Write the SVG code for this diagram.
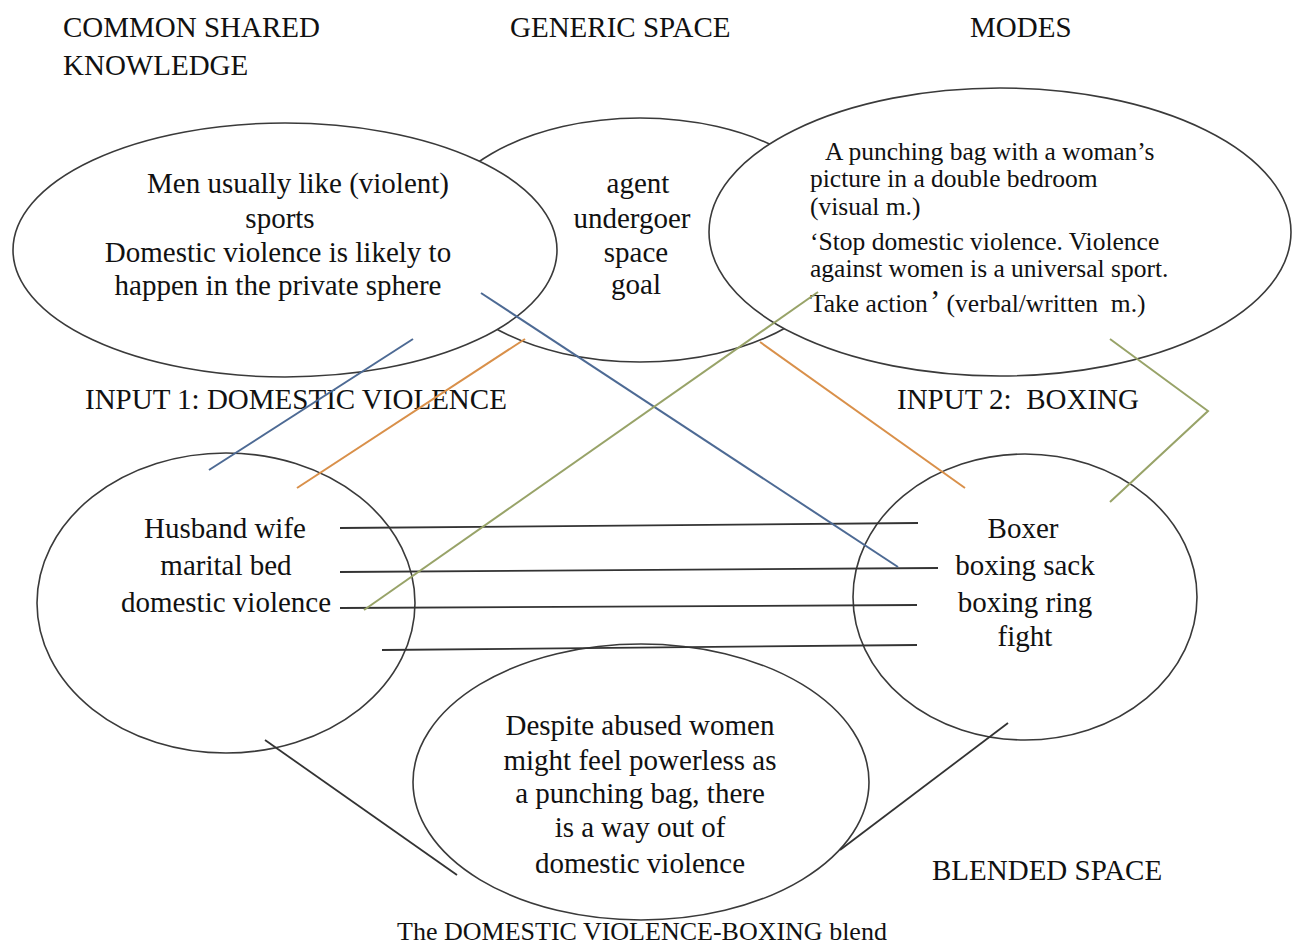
<svg xmlns="http://www.w3.org/2000/svg" width="1294" height="946" viewBox="0 0 1294 946">
  <style>
    text { font-family: "Liberation Serif", "Times New Roman", serif; fill: #111; white-space: pre; }
    .t29 { font-size: 29px; }
    .t25 { font-size: 25.5px; }
    .mid { text-anchor: middle; }
    .space { fill: #fff; stroke: #3a3a3a; stroke-width: 1.6; }
    .link { stroke: #333; stroke-width: 1.8; fill: none; }
    .blue { stroke: #4d6a94; stroke-width: 2; fill: none; }
    .orange { stroke: #d9904a; stroke-width: 2; fill: none; }
    .green { stroke: #98a368; stroke-width: 2; fill: none; }
  </style>

  <!-- section titles -->
  <g id="titles" class="t29">
    <text x="63" y="37">COMMON SHARED</text>
    <text x="63" y="75">KNOWLEDGE</text>
    <text x="510" y="37">GENERIC SPACE</text>
    <text x="970" y="37">MODES</text>
    <text x="85" y="409">INPUT 1: DOMESTIC VIOLENCE</text>
    <text x="897" y="409" xml:space="preserve">INPUT 2:  BOXING</text>
    <text x="932" y="880">BLENDED SPACE</text>
  </g>

  <!-- generic space (drawn first, overlapped by its neighbours) -->
  <g id="generic-space">
    <ellipse class="space" cx="640" cy="240" rx="210" ry="122"/>
    <g class="t29 mid">
      <text x="638" y="193">agent</text>
      <text x="632" y="228">undergoer</text>
      <text x="636" y="262">space</text>
      <text x="636" y="294">goal</text>
    </g>
  </g>

  <!-- common shared knowledge -->
  <g id="shared-knowledge">
    <ellipse class="space" cx="285" cy="250" rx="272" ry="127"/>
    <g class="t29 mid">
      <text x="298" y="193">Men usually like (violent)</text>
      <text x="280" y="228">sports</text>
      <text x="278" y="262">Domestic violence is likely to</text>
      <text x="278" y="295">happen in the private sphere</text>
    </g>
  </g>

  <!-- modes -->
  <g id="modes">
    <ellipse class="space" cx="1000" cy="232" rx="291" ry="144"/>
    <g class="t25">
      <text x="825" y="160">A punching bag with a woman’s</text>
      <text x="810" y="187">picture in a double bedroom</text>
      <text x="810" y="215">(visual m.)</text>
      <text x="810" y="250">‘Stop domestic violence. Violence</text>
      <text x="810" y="277">against women is a universal sport.</text>
      <text x="810" y="312" xml:space="preserve">Take action<tspan font-size="31px" dx="2">’</tspan> (verbal/written  m.)</text>
    </g>
  </g>

  <!-- input 1 -->
  <g id="input-1">
    <ellipse class="space" cx="226" cy="603" rx="189" ry="150"/>
    <g class="t29 mid">
      <text x="225" y="538">Husband wife</text>
      <text x="226" y="575">marital bed</text>
      <text x="226" y="612">domestic violence</text>
    </g>
  </g>

  <!-- input 2 -->
  <g id="input-2">
    <ellipse class="space" cx="1025" cy="597" rx="172" ry="143"/>
    <g class="t29 mid">
      <text x="1023" y="538">Boxer</text>
      <text x="1025" y="575">boxing sack</text>
      <text x="1025" y="612">boxing ring</text>
      <text x="1025" y="646">fight</text>
    </g>
  </g>

  <!-- blended space -->
  <g id="blend">
    <ellipse class="space" cx="641" cy="782" rx="228" ry="138"/>
    <g class="t29 mid">
      <text x="640" y="735">Despite abused women</text>
      <text x="640" y="770">might feel powerless as</text>
      <text x="640" y="803">a punching bag, there</text>
      <text x="640" y="837">is a way out of</text>
      <text x="640" y="873">domestic violence</text>
    </g>
  </g>

  <!-- connectors: cross-space mappings -->
  <g id="connectors">
    <line class="link" x1="340" y1="528" x2="918" y2="523"/>
    <line class="link" x1="340" y1="572" x2="938" y2="568"/>
    <line class="link" x1="340" y1="608" x2="917" y2="605"/>
    <line class="link" x1="382" y1="650" x2="917" y2="645"/>
    <line class="link" x1="265" y1="740" x2="457" y2="875"/>
    <line class="link" x1="1008" y1="723" x2="840" y2="850"/>
    <line class="blue" x1="413" y1="339" x2="209" y2="470"/>
    <line class="blue" x1="481" y1="293" x2="898" y2="567"/>
    <line class="orange" x1="525" y1="339" x2="297" y2="488"/>
    <line class="orange" x1="760" y1="342" x2="965" y2="488"/>
    <line class="green" x1="818" y1="292" x2="364" y2="610"/>
    <polyline class="green" points="1110,339 1208,411 1110,502"/>
  </g>

  <text x="642" y="940" class="mid" font-size="26px">The DOMESTIC VIOLENCE-BOXING blend</text>
</svg>
